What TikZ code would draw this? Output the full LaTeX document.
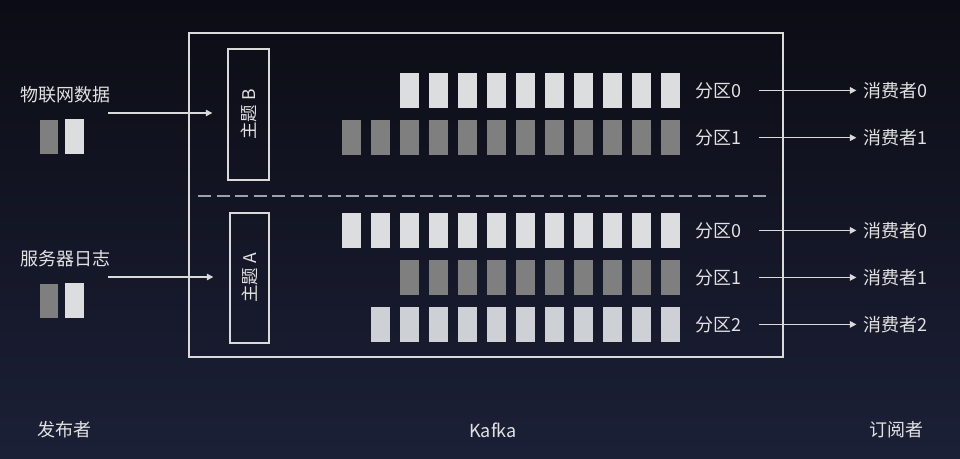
\documentclass[tikz,border=0pt]{standalone}
\usepackage{fontspec}
\setmainfont{Noto Sans CJK SC}
\usetikzlibrary{matrix,positioning,arrows.meta}

\definecolor{bgtop}{HTML}{0B0C14}
\definecolor{bgbot}{HTML}{1C2037}
\definecolor{linec}{HTML}{DADADA}
\definecolor{txtc}{HTML}{E2E2E2}
\definecolor{msglight}{HTML}{DCDDDF}
\definecolor{msgpale}{HTML}{CDD0D5}
\definecolor{msggray}{HTML}{7F7F7F}
\definecolor{dashc}{HTML}{9EA2AB}

\tikzset{
  txt/.style={text=txtc, inner sep=0pt, font=\fontsize{18}{20}\selectfont},
  msg/.style={minimum width=19pt, minimum height=35pt, inner sep=0pt},
  topic/.style={draw=linec, line width=1.4pt, rotate=90, inner sep=0pt,
    text=txtc, font=\fontsize{17.5}{20}\selectfont},
  conn/.style={draw=linec, line width=1.3pt, -{Triangle[length=6.5pt,width=6.5pt]}},
  frame/.style={draw=linec, line width=1.4pt}
}

\begin{document}
\begin{tikzpicture}[x=1pt, y=-1pt]
\useasboundingbox (0,0) rectangle (960,458);
\shade[top color=bgtop, bottom color=bgbot] (0,0) rectangle (960,458);

% kafka cluster
\draw[frame] (189,33) rectangle (783,357);
\draw[dashc, line width=1.5pt, dash pattern=on 13pt off 5.5pt] (198,196) -- (768,196);

% topics
\node[topic, minimum width=131pt, minimum height=41pt] (tb) at (248.5,114.5) {主题 B};
\node[topic, minimum width=130pt, minimum height=39pt] (ta) at (249.5,278) {主题 A};

% topic B partitions
\matrix (mb) [
    matrix of nodes, inner sep=0pt, anchor=north east,
    column sep=10pt, row sep=12.3pt,
    nodes={msg},
    row 1/.style={nodes={fill=msglight}},
    row 2/.style={nodes={fill=msggray}}
] at (680,72.7)
{
   &    & {} & {} & {} & {} & {} & {} & {} & {} & {} & {} \\
{} & {} & {} & {} & {} & {} & {} & {} & {} & {} & {} & {} \\
};

% topic A partitions
\matrix (ma) [
    matrix of nodes, inner sep=0pt, anchor=north east,
    column sep=10pt, row sep=12pt,
    nodes={msg},
    row 1/.style={nodes={fill=msglight}},
    row 2/.style={nodes={fill=msggray}},
    row 3/.style={nodes={fill=msgpale}}
] at (680,212.7)
{
{} & {} & {} & {} & {} & {} & {} & {} & {} & {} & {} & {} \\
   &    & {} & {} & {} & {} & {} & {} & {} & {} & {} & {} \\
   & {} & {} & {} & {} & {} & {} & {} & {} & {} & {} & {} \\
};

% partition labels and consumers
\node[txt, right=15pt of mb-1-12] (pb0) {分区0};
\node[txt, right=15pt of mb-2-12] (pb1) {分区1};
\node[txt, right=15pt of ma-1-12] (pa0) {分区0};
\node[txt, right=15pt of ma-2-12] (pa1) {分区1};
\node[txt, right=15pt of ma-3-12] (pa2) {分区2};

\node[txt, right=122pt of pb0] (cb0) {消费者0};
\node[txt, right=122pt of pb1] (cb1) {消费者1};
\node[txt, right=122pt of pa0] (ca0) {消费者0};
\node[txt, right=122pt of pa1] (ca1) {消费者1};
\node[txt, right=122pt of pa2] (ca2) {消费者2};

\foreach \p/\c in {pb0/cb0, pb1/cb1, pa0/ca0, pa1/ca1, pa2/ca2}
  \draw[conn, shorten <=18pt, shorten >=7pt] (\p) -- (\c);

% publishers
\node[txt, anchor=west] (iot) at (20,95) {物联网数据};
\node[msg, fill=msggray, minimum width=18pt, minimum height=34pt] (iot1) at (49,136.5) {};
\node[msg, fill=msglight, right=7pt of iot1] (iot2) {};
\coordinate (iotout) at (108,113);

\node[txt, anchor=west] (log) at (20,259) {服务器日志};
\node[msg, fill=msggray, minimum width=18pt, minimum height=34pt] (log1) at (49,300.5) {};
\node[msg, fill=msglight, right=7pt of log1] (log2) {};
\coordinate (logout) at (108,277);

\draw[conn, shorten >=15pt] (iotout) -- (iotout -| tb.north);
\draw[conn, shorten >=16pt] (logout) -- (logout -| ta.north);

% roles
\node[txt] (pub) at (64,430) {发布者};
\node[txt] (kafka) at (493,430) {Kafka};
\node[txt] (sub) at (896,430) {订阅者};
\end{tikzpicture}
\end{document}
